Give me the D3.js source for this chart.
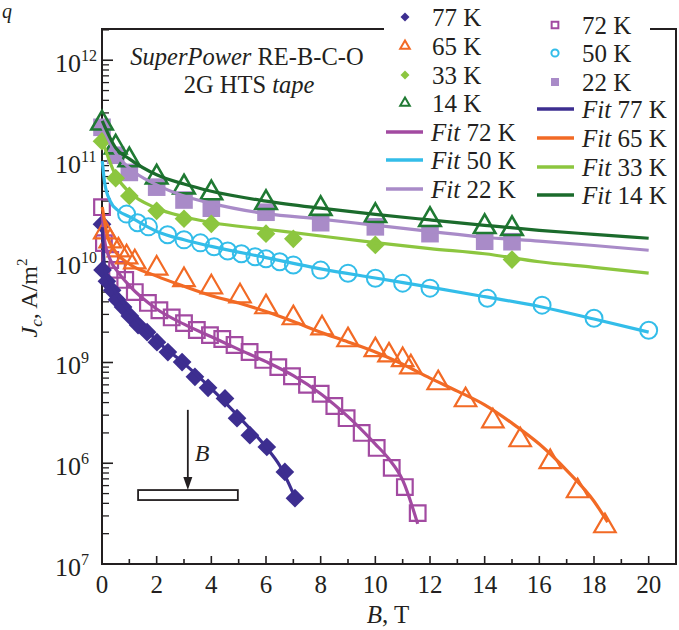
<!DOCTYPE html>
<html>
<head>
<meta charset="utf-8">
<script src="https://cdn.jsdelivr.net/npm/d3@7"></script>
<style>
  body { margin: 0; background: #fff; }
  svg { display: block; }
</style>
</head>
<body>
<div id="chart"></div>
<script>
// measured points, B in T, Jc in A/m2
const b77 = [0.0, 0.02, 0.18, 0.37, 0.55, 0.77, 1.02, 1.32, 1.65, 2.01, 2.41, 2.93, 3.4, 3.88, 4.5, 4.94, 5.41, 6.03, 6.69, 7.06];
const j77 = [2.36e10, 8.3e9, 6.4e9, 5.2e9, 4.2e9, 3.55e9, 2.9e9, 2.35e9, 2.0e9, 1.59e9, 1.27e9, 1.01e9, 7.2e8, 5.6e8, 4.4e8, 2.8e8, 1.9e8, 1.45e8, 8.2e7, 4.5e7];

const b72 = [0.0, 0.07, 0.3, 0.55, 0.85, 1.2, 1.68, 2.1, 2.55, 3.0, 3.47, 3.95, 4.4, 4.85, 5.4, 5.9, 6.45, 6.95, 7.5, 8.0, 8.5, 8.95, 9.5, 10.05, 10.6, 11.08, 11.55];
const j72 = [3.48e10, 1.53e10, 1.04e10, 8.3e9, 6.6e9, 5.0e9, 3.9e9, 3.3e9, 2.8e9, 2.46e9, 2.1e9, 1.87e9, 1.71e9, 1.49e9, 1.27e9, 1.06e9, 9.0e8, 7.3e8, 6.0e8, 4.9e8, 3.7e8, 2.8e8, 2.0e8, 1.42e8, 9.0e7, 5.8e7, 3.2e7];

const b65 = [0.1, 0.3, 0.6, 0.9, 1.2, 2.0, 3.0, 4.0, 5.05, 6.0, 7.0, 8.05, 9.0, 10.0, 10.5, 11.0, 11.3, 12.3, 13.3, 14.3, 15.3, 16.4, 17.4, 18.4];
const j65 = [1.97e10, 1.6e10, 1.3e10, 1.11e10, 9.9e9, 8.6e9, 6.6e9, 5.6e9, 4.56e9, 3.55e9, 2.76e9, 2.19e9, 1.67e9, 1.33e9, 1.18e9, 1.06e9, 9.0e8, 6.25e8, 4.24e8, 2.62e8, 1.7e8, 1.03e8, 5.3e7, 2.38e7];

const b50 = [0.9, 1.3, 1.7, 2.4, 3.0, 3.6, 4.1, 4.6, 5.1, 5.6, 6.0, 6.5, 7.0, 8.0, 9.0, 10.0, 11.0, 12.0, 14.1, 16.1, 18.0, 20.0];
const j50 = [2.97e10, 2.44e10, 2.22e10, 1.85e10, 1.65e10, 1.54e10, 1.41e10, 1.28e10, 1.2e10, 1.12e10, 1.07e10, 1.0e10, 9.3e9, 8.26e9, 7.7e9, 6.87e9, 6.13e9, 5.47e9, 4.35e9, 3.71e9, 2.75e9, 2.09e9];

const b33 = [0.0, 0.5, 1.0, 2.0, 3.0, 4.0, 6.0, 7.0, 10.0, 15.0];
const j33 = [1.57e11, 6.75e10, 4.5e10, 3.2e10, 2.67e10, 2.38e10, 1.9e10, 1.69e10, 1.47e10, 1.05e10];

const b22 = [0.0, 0.5, 1.0, 2.0, 3.0, 4.0, 6.0, 8.0, 10.0, 12.0, 14.0, 15.0];
const j22 = [2.16e11, 1.14e11, 7.7e10, 5.5e10, 4.1e10, 3.4e10, 3.1e10, 2.44e10, 2.22e10, 1.9e10, 1.6e10, 1.58e10];

const b14 = [0.0, 0.5, 1.0, 2.0, 3.0, 4.0, 6.0, 8.0, 10.0, 12.0, 14.0, 15.0];
const j14 = [2.37e11, 1.37e11, 1.02e11, 6.9e10, 5.5e10, 4.8e10, 3.85e10, 3.36e10, 2.86e10, 2.61e10, 2.22e10, 2.12e10];

// fit curves
const fitB77 = [0.01, 0.1, 0.3, 0.6, 1, 1.5, 2, 3, 4, 5, 6, 6.5, 7];
const fitJ77 = [2.2e10, 8.5e9, 6.2e9, 4.5e9, 3.2e9, 2.3e9, 1.65e9, 9.8e8, 5.5e8, 2.9e8, 1.45e8, 9.5e7, 5.0e7];
const fitB72 = [0.01, 0.1, 0.3, 0.6, 1, 2, 3, 4, 5, 6, 7, 8, 9, 10, 10.5, 11, 11.55];
const fitJ72 = [3.0e10, 1.6e10, 1.05e10, 7.8e9, 5.8e9, 3.4e9, 2.4e9, 1.8e9, 1.35e9, 1.02e9, 7.4e8, 4.9e8, 2.9e8, 1.55e8, 1.1e8, 6.8e7, 2.5e7];
const fitB65 = [0.01, 0.2, 0.5, 1, 2, 3, 4, 5, 6, 7, 8, 9, 10, 11, 12, 13, 14, 15, 16, 17, 18, 18.5];
const fitJ65 = [3.5e10, 1.8e10, 1.25e10, 9.5e9, 7.2e9, 5.7e9, 4.6e9, 3.9e9, 3.2e9, 2.55e9, 2.0e9, 1.6e9, 1.27e9, 9.6e8, 7.0e8, 5.2e8, 3.8e8, 2.5e8, 1.55e8, 8.5e7, 4.2e7, 2.6e7];
const fitB50 = [0.01, 0.1, 0.3, 0.6, 1, 2, 3, 4, 6, 8, 10, 12, 14, 16, 18, 20];
const fitJ50 = [1.0e11, 6.0e10, 4.0e10, 3.2e10, 2.8e10, 2.0e10, 1.65e10, 1.42e10, 1.1e10, 8.5e9, 6.9e9, 5.6e9, 4.5e9, 3.6e9, 2.7e9, 2.0e9];
const fitB33 = [0.01, 0.5, 1, 2, 3, 4, 6, 8, 10, 12, 14, 16, 18, 20];
const fitJ33 = [1.6e11, 7.2e10, 4.9e10, 3.4e10, 2.8e10, 2.45e10, 2.1e10, 1.8e10, 1.55e10, 1.35e10, 1.2e10, 1.0e10, 8.8e9, 7.7e9];
const fitB22 = [0.01, 0.5, 1, 2, 3, 4, 6, 8, 10, 12, 14, 16, 18, 20];
const fitJ22 = [2.2e11, 1.2e11, 8.5e10, 5.8e10, 4.5e10, 3.8e10, 3.0e10, 2.65e10, 2.3e10, 2.0e10, 1.75e10, 1.6e10, 1.45e10, 1.3e10];
const fitB14 = [0.01, 0.5, 1, 2, 3, 4, 6, 8, 10, 12, 14, 16, 18, 20];
const fitJ14 = [2.5e11, 1.35e11, 1.05e11, 7.3e10, 5.9e10, 5.0e10, 4.0e10, 3.4e10, 2.95e10, 2.6e10, 2.3e10, 2.05e10, 1.87e10, 1.71e10];

// axis ticks
const xTicks = [0, 2, 4, 6, 8, 10, 12, 14, 16, 18, 20];
const yDecades = [1e7, 1e8, 1e9, 1e10, 1e11, 1e12];
const yExpLabels = ['7', '6', '9', '10', '11', '12'];

const serif = '"Liberation Serif", "Times New Roman", serif';
const width = 679, height = 630;

const svg = d3.select('#chart').append('svg')
  .attr('width', width)
  .attr('height', height)
  .style('font-family', serif);

svg.append('rect').attr('width', width).attr('height', height).attr('fill', '#fff');

const x = d3.scaleLinear().domain([0, 21]).range([102, 676]);
const y = d3.scaleLog().domain([1e7, Math.pow(10, 12.31)]).range([564, 29]);

// frame
const frame = svg.append('g');
frame.append('path')
  .attr('d', `M${x(0)},${y.range()[1]}V${y.range()[0]}H${x(21)}V${y.range()[1]}Z`)
  .attr('fill', 'none').attr('stroke', '#231f20').attr('stroke-width', 2);

// x ticks (inside)
d3.range(1, 21).forEach(v => {
  frame.append('line')
    .attr('x1', x(v)).attr('x2', x(v))
    .attr('y1', y(1e7)).attr('y2', y(1e7) - (v % 2 === 0 ? 8 : 5))
    .attr('stroke', '#231f20').attr('stroke-width', 1.6);
});
frame.selectAll('.xl').data(xTicks).enter().append('text')
  .attr('x', d => x(d)).attr('y', 593)
  .attr('text-anchor', 'middle')
  .attr('font-size', 25).attr('fill', '#231f20')
  .text(d => d);

// y ticks (inside), minor at 2..9
yDecades.forEach((d, i) => {
  frame.append('line')
    .attr('x1', x(0)).attr('x2', x(0) + 11)
    .attr('y1', y(d)).attr('y2', y(d))
    .attr('stroke', '#231f20').attr('stroke-width', 1.6);
  d3.range(2, 10).forEach(m => {
    const v = d * m;
    if (v > y.domain()[1]) return;
    frame.append('line')
      .attr('x1', x(0)).attr('x2', x(0) + 7)
      .attr('y1', y(v)).attr('y2', y(v))
      .attr('stroke', '#231f20').attr('stroke-width', 1.3);
  });
  frame.append('text')
    .attr('x', 81).attr('y', y(d) + 12)
    .attr('text-anchor', 'end')
    .attr('font-size', 26).attr('fill', '#231f20')
    .text('10');
  frame.append('text')
    .attr('x', 81).attr('y', y(d) + 1)
    .attr('font-size', 16).attr('fill', '#231f20')
    .text(yExpLabels[i]);
});

// axis titles
const xt = svg.append('text')
  .attr('x', 388).attr('y', 623)
  .attr('text-anchor', 'middle')
  .attr('font-size', 25).attr('fill', '#231f20');
xt.append('tspan').attr('font-style', 'italic').text('B');
xt.append('tspan').text(', T');

const yt = svg.append('text')
  .attr('transform', 'translate(37,298) rotate(-90)')
  .attr('text-anchor', 'middle')
  .attr('font-size', 24).attr('fill', '#231f20');
yt.append('tspan').attr('font-style', 'italic').text('J');
yt.append('tspan').attr('font-style', 'italic').attr('font-size', 17).attr('dy', 5).text('c');
yt.append('tspan').attr('dy', -5).text(', A/m');
yt.append('tspan').attr('font-size', 15).attr('dy', -10).text('2');

// panel letter and caption
svg.append('text').attr('x', 2).attr('y', 18)
  .attr('font-size', 20).attr('font-style', 'italic').attr('fill', '#231f20').text('q');
const cap1 = svg.append('text').attr('x', 247).attr('y', 65)
  .attr('text-anchor', 'middle').attr('font-size', 24.5).attr('fill', '#231f20');
cap1.append('tspan').attr('font-style', 'italic').text('SuperPower');
cap1.append('tspan').text(' RE-B-C-O');
const cap2 = svg.append('text').attr('x', 249).attr('y', 93)
  .attr('text-anchor', 'middle').attr('font-size', 24.5).attr('fill', '#231f20');
cap2.append('tspan').text('2G HTS ');
cap2.append('tspan').attr('font-style', 'italic').text('tape');

// sample sketch: field arrow over tape
const sk = svg.append('g').attr('stroke', '#231f20');
sk.append('rect')
  .attr('x', x(1.32)).attr('y', y(Math.pow(10, 7.734)))
  .attr('width', x(4.97) - x(1.32)).attr('height', 10)
  .attr('fill', '#fff').attr('stroke-width', 1.8);
sk.append('line')
  .attr('x1', x(3.14)).attr('x2', x(3.14))
  .attr('y1', y(Math.pow(10, 8.53))).attr('y2', y(Math.pow(10, 7.734)) - 10)
  .attr('stroke-width', 1.8);
sk.append('path')
  .attr('d', `M${x(3.14) - 4.5},${y(Math.pow(10, 7.734)) - 13}L${x(3.14) + 4.5},${y(Math.pow(10, 7.734)) - 13}L${x(3.14)},${y(Math.pow(10, 7.734))}Z`)
  .attr('fill', '#231f20').attr('stroke', 'none');
svg.append('text').attr('x', x(3.14) + 7).attr('y', 461)
  .attr('font-size', 24).attr('font-style', 'italic').attr('fill', '#231f20').text('B');

// series styles
const colors = {
  k77: '#3d2e90', k72: '#a24aa1', k65: '#f26a25', k50: '#33bde9',
  k33: '#8cc63f', k22: '#a98bc8', k14: '#1f7a33', fit14: '#1b6b2c'
};

const sym = (type, size) => d3.symbol().type(type).size(size)();

const markers = [
  { b: b22, j: j22, path: sym(d3.symbolSquare, 310), fill: colors.k22, stroke: 'none', rot: 0 },
  { b: b33, j: j33, path: sym(d3.symbolSquare, 175), fill: colors.k33, stroke: 'none', rot: 45 },
  { b: b50, j: j50, circle: 8.5, fill: 'none', stroke: colors.k50, sw: 2 },
  { b: b72, j: j72, path: sym(d3.symbolSquare, 245), fill: 'none', stroke: colors.k72, sw: 2.2, rot: 0 },
  { b: b77, j: j77, path: sym(d3.symbolSquare, 175), fill: colors.k77, stroke: 'none', rot: 45 },
  { b: b65, j: j65, path: sym(d3.symbolTriangle, 200), fill: 'none', stroke: colors.k65, sw: 2.2, rot: 0 },
  { b: b14, j: j14, path: sym(d3.symbolTriangle, 200), fill: 'none', stroke: colors.k14, sw: 2.6, rot: 0 }
];

const gm = svg.append('g');
markers.forEach(s => {
  const pts = s.b.map((b, i) => [x(b), y(s.j[i])]);
  if (s.circle) {
    gm.append('g').selectAll('circle').data(pts).enter().append('circle')
      .attr('cx', d => d[0]).attr('cy', d => d[1]).attr('r', s.circle)
      .attr('fill', s.fill).attr('stroke', s.stroke).attr('stroke-width', s.sw);
  } else {
    gm.append('g').selectAll('path').data(pts).enter().append('path')
      .attr('d', s.path)
      .attr('transform', d => `translate(${d[0]},${d[1]}) rotate(${s.rot})`)
      .attr('fill', s.fill).attr('stroke', s.stroke).attr('stroke-width', s.sw || 0);
  }
});

// fit lines
const line = d3.line().x(d => x(d[0])).y(d => y(d[1])).curve(d3.curveMonotoneX);
const fits = [
  { b: fitB22, j: fitJ22, c: colors.k22 },
  { b: fitB33, j: fitJ33, c: colors.k33 },
  { b: fitB50, j: fitJ50, c: colors.k50 },
  { b: fitB72, j: fitJ72, c: colors.k72 },
  { b: fitB77, j: fitJ77, c: colors.k77 },
  { b: fitB65, j: fitJ65, c: colors.k65 },
  { b: fitB14, j: fitJ14, c: colors.fit14 }
];
fits.forEach(f => {
  svg.append('path')
    .datum(f.b.map((b, i) => [b, f.j[i]]))
    .attr('d', line)
    .attr('fill', 'none').attr('stroke', f.c).attr('stroke-width', 3.2);
});

// legend
svg.append('rect').attr('x', 384).attr('y', 0).attr('width', 266).attr('height', 36).attr('fill', '#fff');
const lg = svg.append('g').attr('font-size', 25).attr('fill', '#231f20');

const legSym = [
  { x: 405, y: 17, label: '77 K', path: sym(d3.symbolSquare, 40), fill: colors.k77, stroke: 'none', rot: 45 },
  { x: 405, y: 46, label: '65 K', path: sym(d3.symbolTriangle, 40), fill: 'none', stroke: colors.k65, rot: 0 },
  { x: 405, y: 75, label: '33 K', path: sym(d3.symbolSquare, 40), fill: colors.k33, stroke: 'none', rot: 45 },
  { x: 405, y: 103, label: '14 K', path: sym(d3.symbolTriangle, 40), fill: 'none', stroke: colors.k14, rot: 0 },
  { x: 555, y: 25, label: '72 K', path: sym(d3.symbolSquare, 45), fill: 'none', stroke: colors.k72, rot: 0 },
  { x: 555, y: 53, label: '50 K', circle: true, fill: 'none', stroke: colors.k50 },
  { x: 555, y: 82, label: '22 K', path: sym(d3.symbolSquare, 64), fill: colors.k22, stroke: 'none', rot: 0 }
];
legSym.forEach(s => {
  if (s.circle) {
    lg.append('circle').attr('cx', s.x).attr('cy', s.y).attr('r', 3.6)
      .attr('fill', 'none').attr('stroke', s.stroke).attr('stroke-width', 2);
  } else {
    lg.append('path').attr('d', s.path)
      .attr('transform', `translate(${s.x},${s.y}) rotate(${s.rot})`)
      .attr('fill', s.fill).attr('stroke', s.stroke).attr('stroke-width', 2);
  }
  lg.append('text').attr('x', s.x + 27).attr('y', s.y + 8.5).text(s.label);
});

const legFit = [
  { x: 386, y: 132, label: '72 K', c: colors.k72 },
  { x: 386, y: 160, label: '50 K', c: colors.k50 },
  { x: 386, y: 189, label: '22 K', c: colors.k22 },
  { x: 537, y: 109, label: '77 K', c: colors.k77 },
  { x: 537, y: 138, label: '65 K', c: colors.k65 },
  { x: 537, y: 167, label: '33 K', c: colors.k33 },
  { x: 537, y: 195, label: '14 K', c: colors.fit14 }
];
legFit.forEach(f => {
  lg.append('line').attr('x1', f.x).attr('x2', f.x + 37)
    .attr('y1', f.y).attr('y2', f.y)
    .attr('stroke', f.c).attr('stroke-width', 3.5);
  const t = lg.append('text').attr('x', f.x + 45).attr('y', f.y + 8.5);
  t.append('tspan').attr('font-style', 'italic').text('Fit');
  t.append('tspan').text(' ' + f.label);
});
</script>
</body>
</html>
